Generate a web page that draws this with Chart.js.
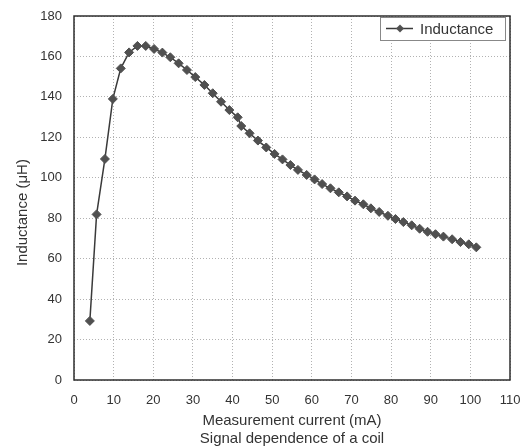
<!DOCTYPE html>
<html>
<head>
<meta charset="utf-8">
<script src="https://cdn.jsdelivr.net/npm/chart.js@4"></script>
<style>
  html, body { margin: 0; padding: 0; background: #fff; }
</style>
</head>
<body>
<canvas id="coilChart" width="528" height="448"></canvas>
<script>
const currentMa = [
  4.0, 5.7, 7.8, 9.8, 11.8, 13.9, 16.0, 18.1, 20.2, 22.3,
  24.3, 26.4, 28.5, 30.6, 32.9, 35.0, 37.1, 39.2, 41.3,
  42.2, 44.3, 46.4, 48.5, 50.6, 52.6, 54.6, 56.5, 58.7, 60.7,
  62.6, 64.7, 66.8, 68.9, 70.9, 73.0, 74.9, 77.0, 79.2, 81.1,
  83.1, 85.2, 87.2, 89.2, 91.2, 93.2, 95.4, 97.5, 99.6, 101.5
];
const inductanceUh = [
  29.2, 81.9, 109.3, 139.0, 154.1, 162.0, 165.2, 165.2, 163.7, 161.9,
  159.6, 156.6, 153.3, 149.8, 145.9, 141.8, 137.6, 133.5, 129.9,
  125.6, 122.0, 118.4, 115.0, 111.8, 109.1, 106.3, 103.9, 101.4, 99.2,
  96.9, 94.8, 92.8, 90.8, 88.7, 86.9, 84.9, 83.1, 81.2, 79.6,
  78.1, 76.5, 74.8, 73.3, 72.1, 70.9, 69.6, 68.2, 67.1, 65.6
];
const seriesName = 'Inductance';
const xAxisTitle = ['Measurement current (mA)', 'Signal dependence of a coil'];
const yAxisTitle = 'Inductance (\u03bcH)';

const lineColor = '#3a3a3a';
const markColor = '#505050';

Chart.defaults.font.family = '"Liberation Sans", Arial, sans-serif';
Chart.defaults.color = '#333';

// box round the plot area
const framePlugin = {
  id: 'frame',
  beforeDatasetsDraw(chart) {
    const a = chart.chartArea;
    const ctx = chart.ctx;
    ctx.save();
    ctx.strokeStyle = '#2e2e2e';
    ctx.lineWidth = 1.5;
    ctx.strokeRect(a.left, a.top, a.right - a.left, a.bottom - a.top);
    ctx.restore();
  }
};

// boxed legend in the top right corner of the plot, over the grid
const boxLegend = {
  id: 'boxLegend',
  afterDraw(chart) {
    const a = chart.chartArea;
    const ds = chart.data.datasets[0];
    const ctx = chart.ctx;
    const w = 125, h = 23;
    const x0 = a.right - 5 - w, y0 = a.top + 1;
    const cy = y0 + h / 2;
    ctx.save();
    ctx.fillStyle = '#fff';
    ctx.fillRect(x0, y0, w, h);
    ctx.strokeStyle = '#888';
    ctx.lineWidth = 1;
    ctx.strokeRect(x0 + 0.5, y0 + 0.5, w, h);
    ctx.strokeStyle = ds.borderColor;
    ctx.lineWidth = 1.5;
    ctx.beginPath();
    ctx.moveTo(x0 + 6, cy);
    ctx.lineTo(x0 + 33, cy);
    ctx.stroke();
    ctx.fillStyle = ds.pointBackgroundColor;
    ctx.beginPath();
    ctx.moveTo(x0 + 20, cy - 4);
    ctx.lineTo(x0 + 24, cy);
    ctx.lineTo(x0 + 20, cy + 4);
    ctx.lineTo(x0 + 16, cy);
    ctx.closePath();
    ctx.fill();
    ctx.fillStyle = '#333';
    ctx.font = '15px "Liberation Sans", Arial, sans-serif';
    ctx.textAlign = 'left';
    ctx.textBaseline = 'middle';
    ctx.fillText(ds.label, x0 + 40, cy + 1);
    ctx.restore();
  }
};

const points = currentMa.map((x, i) => ({ x: x, y: inductanceUh[i] }));

new Chart(document.getElementById('coilChart'), {
  type: 'line',
  data: {
    datasets: [{
      label: seriesName,
      data: points,
      borderColor: lineColor,
      borderWidth: 1.5,
      pointStyle: 'rectRot',
      pointRadius: 4.5,
      pointBackgroundColor: markColor,
      pointBorderColor: markColor,
      pointBorderWidth: 1,
      tension: 0
    }]
  },
  options: {
    responsive: false,
    animation: false,
    layout: { padding: { top: 16, right: 18, left: 0, bottom: 0 } },
    plugins: {
      legend: { display: false },
      tooltip: { enabled: false }
    },
    scales: {
      x: {
        type: 'linear',
        min: 0,
        max: 110,
        ticks: { stepSize: 10, padding: 13, font: { size: 13 } },
        grid: { color: 'rgba(0,0,0,0.3)', drawTicks: false },
        border: { display: false, dash: [1, 2] },
        title: {
          display: true,
          text: xAxisTitle,
          font: { size: 15 },
          padding: { top: 4, bottom: 0 }
        },
        afterFit(scale) {
          scale.height = 68;
          scale.paddingLeft = 0;
          scale.paddingRight = 0;
        }
      },
      y: {
        min: 0,
        max: 180,
        ticks: { stepSize: 20, padding: 12, font: { size: 13 } },
        grid: { color: 'rgba(0,0,0,0.3)', drawTicks: false },
        border: { display: false, dash: [1, 2] },
        title: {
          display: true,
          text: yAxisTitle + '       ',
          font: { size: 15 },
          padding: { top: 14, bottom: 0 }
        },
        afterFit(scale) {
          scale.width = 74;
          scale.paddingTop = 0;
          scale.paddingBottom = 0;
        }
      }
    }
  },
  plugins: [framePlugin, boxLegend]
});
</script>
</body>
</html>
